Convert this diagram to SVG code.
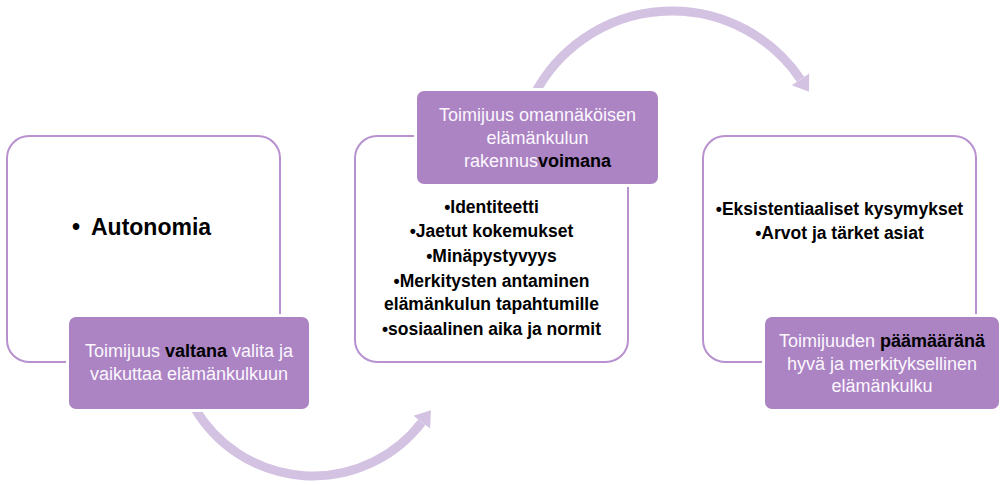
<svg xmlns="http://www.w3.org/2000/svg" width="1001" height="485" viewBox="0 0 1001 485">
<style>
.box{fill:#ffffff;stroke:#b892d0;stroke-width:2}
.lab{fill:#ac84c4;stroke:#ffffff;stroke-width:6;paint-order:stroke}
.arc{fill:none;stroke:#d3c2e1;stroke-width:9}
.lt{font-family:"Liberation Sans",Arial,sans-serif;font-size:18px;fill:#fbf7fd;text-anchor:middle}
.lt .b{font-weight:bold;fill:#000000}
.bt{font-family:"Liberation Sans",Arial,sans-serif;font-size:17.5px;font-weight:bold;fill:#000000;text-anchor:middle}
</style>
<defs>
<marker id="ah" markerUnits="userSpaceOnUse" markerWidth="30" markerHeight="30" refX="0" refY="0" viewBox="-2 -15 30 30" orient="auto">
<path d="M0,-10.5 L15,0 L0,10.5 Z" fill="#d3c2e1"/>
</marker>
</defs>
<g id="connectors">
<path class="arc" d="M194.4,407.5 A137,137 0 0 0 421.8,422.2" marker-end="url(#ah)"/>
<path class="arc" d="M534.5,94.4 A155,155 0 0 1 800.5,79.3" marker-end="url(#ah)"/>
</g>
<g id="node1">
<rect class="box" x="7" y="136" width="273" height="226" rx="22"/>
<text class="bt" style="font-size:23px;text-anchor:start"><tspan x="72" y="235">•</tspan><tspan x="91" y="235">Autonomia</tspan></text>
<rect class="lab" x="69" y="317" width="240" height="92" rx="7"/>
<text class="lt"><tspan x="189" y="357">Toimijuus <tspan class="b">valtana</tspan> valita ja</tspan><tspan x="189" y="380">vaikuttaa elämänkulkuun</tspan></text>
</g>
<g id="node2">
<rect class="box" x="355" y="136" width="273" height="226" rx="22"/>
<rect class="lab" x="417" y="91" width="241" height="93" rx="7"/>
<text class="lt"><tspan x="537.5" y="121">Toimijuus omannäköisen</tspan><tspan x="537.5" y="144">elämänkulun</tspan><tspan x="537.5" y="167">rakennus<tspan class="b">voimana</tspan></tspan></text>
<text class="bt"><tspan x="491.5" y="213">•Identiteetti</tspan><tspan x="491.5" y="237">•Jaetut kokemukset</tspan><tspan x="491.5" y="262">•Minäpystyvyys</tspan><tspan x="491.5" y="287">•Merkitysten antaminen</tspan><tspan x="491.5" y="310">elämänkulun tapahtumille</tspan><tspan x="491.5" y="335">•sosiaalinen aika ja normit</tspan></text>
</g>
<g id="node3">
<rect class="box" x="703" y="136" width="273" height="226" rx="22"/>
<text class="bt"><tspan x="839.5" y="215">•Eksistentiaaliset kysymykset</tspan><tspan x="839.5" y="239">•Arvot ja tärket asiat</tspan></text>
<rect class="lab" x="765" y="317" width="234" height="92" rx="7"/>
<text class="lt"><tspan x="882" y="347">Toimijuuden <tspan class="b">päämääränä</tspan></tspan><tspan x="882" y="370">hyvä ja merkityksellinen</tspan><tspan x="882" y="392">elämänkulku</tspan></text>
</g>
</svg>
